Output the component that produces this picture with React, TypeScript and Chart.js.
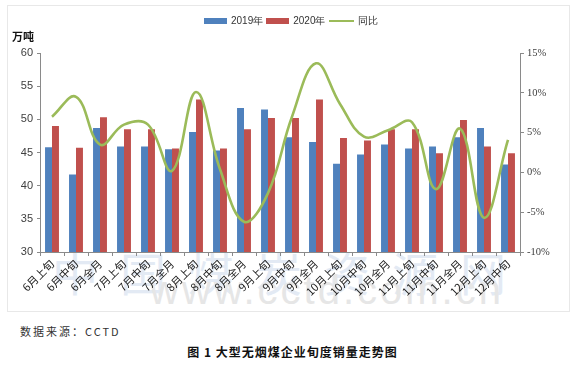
import React, { useEffect, useRef } from 'react';
import { Chart, registerables } from 'chart.js';

Chart.register(...registerables);

const categories = [
  '6月上旬', '6月中旬', '6月全月', '7月上旬', '7月中旬', '7月全月', '8月上旬', '8月中旬', '8月全月', '9月上旬',
  '9月中旬', '9月全月', '10月上旬', '10月中旬', '10月全月', '11月上旬', '11月中旬', '11月全月', '12月上旬', '12月中旬',
];
const sales2019 = [45.8, 41.7, 48.7, 45.9, 45.9, 45.5, 48.1, 45.3, 51.7, 51.5, 47.3, 46.6, 43.3, 44.7, 46.2, 45.6, 45.9, 47.3, 48.7, 43.2];
const sales2020 = [49.0, 45.7, 50.3, 48.5, 48.5, 45.6, 53.0, 45.6, 48.5, 50.2, 50.2, 53.0, 47.2, 46.8, 48.5, 48.5, 44.9, 49.9, 45.9, 44.9];
const yoyPct = [7.0, 9.5, 3.5, 6.0, 6.0, 0.2, 10.1, 0.4, -6.2, -2.6, 7.0, 13.7, 8.6, 4.5, 5.3, 6.3, -2.1, 5.5, -5.7, 4.1];
const leftRange = [30, 60, 5];
const rightRange = [-10, 15, 5];
const legendNames = ['2019年', '2020年', '同比'];
const unitLabel = '万吨';
const sourceText = '数据来源：CCTD';
const captionText = '图 1 大型无烟煤企业旬度销量走势图';

const BLUE = '#4F81BD';
const RED = '#C0504D';
const GREEN = '#9BBB59';
const AXIS = '#8a8a8a';

export default function App() {
  const ref = useRef<HTMLCanvasElement | null>(null);

  useEffect(() => {
    if (!ref.current) return;
    const chart = new Chart(ref.current, {
      type: 'bar',
      data: {
        labels: categories,
        datasets: [
          {
            type: 'line',
            label: legendNames[2],
            data: yoyPct,
            yAxisID: 'y1',
            borderColor: GREEN,
            backgroundColor: GREEN,
            borderWidth: 2.6,
            pointRadius: 0,
            tension: 0.4,
            order: 0,
          } as any,
          {
            label: legendNames[0],
            data: sales2019,
            backgroundColor: BLUE,
            yAxisID: 'y',
            categoryPercentage: 0.58,
            barPercentage: 1,
            order: 1,
          },
          {
            label: legendNames[1],
            data: sales2020,
            backgroundColor: RED,
            yAxisID: 'y',
            categoryPercentage: 0.58,
            barPercentage: 1,
            order: 1,
          },
        ],
      },
      options: {
        animation: false,
        responsive: false,
        maintainAspectRatio: false,
        layout: { padding: { top: 53, left: 0, right: 0, bottom: 0 } },
        plugins: { legend: { display: false }, tooltip: { enabled: false } },
        scales: {
          x: {
            offset: true,
            grid: { display: true, drawOnChartArea: false, offset: true, tickLength: 4, color: AXIS },
            border: { color: AXIS },
            ticks: {
              autoSkip: false,
              minRotation: 45,
              maxRotation: 45,
              padding: 1,
              color: '#222',
              font: { family: '"Noto Sans CJK SC", sans-serif', size: 11 },
            },
            afterFit: (s: any) => { s.height = 68; },
          },
          y: {
            position: 'left',
            min: leftRange[0],
            max: leftRange[1],
            ticks: {
              stepSize: leftRange[2],
              padding: 4,
              color: '#404040',
              font: { family: '"Liberation Sans", Arial, sans-serif', size: 11 },
            },
            grid: { drawOnChartArea: false, tickLength: 3, color: AXIS },
            border: { color: AXIS },
            afterFit: (s: any) => { s.width = 40; },
          },
          y1: {
            position: 'right',
            min: rightRange[0],
            max: rightRange[1],
            ticks: {
              stepSize: rightRange[2],
              padding: 3,
              color: '#404040',
              callback: (v: any) => v + '%',
              font: { family: '"Liberation Serif", serif', size: 10.5 },
            },
            grid: { drawOnChartArea: false, tickLength: 4, color: AXIS },
            border: { color: AXIS },
            afterFit: (s: any) => { s.width = 65; },
          },
        },
      },
    });
    return () => chart.destroy();
  }, []);

  const legendText: React.CSSProperties = {
    fontFamily: '"Liberation Sans", Arial, sans-serif',
    fontSize: 10,
    color: '#333',
    lineHeight: '12px',
  };

  return (
    <div style={{ position: 'absolute', left: 0, top: 0, width: 585, height: 366, background: '#fff', overflow: 'hidden' }}>
      <div style={{ position: 'absolute', left: 7, top: 5, width: 563, height: 307, border: '1px solid #e8e8e8', boxSizing: 'border-box' }} />
      <div style={{ position: 'absolute', left: 50, top: 238, width: 480, textAlign: 'center', fontFamily: '"Noto Sans CJK SC", sans-serif', fontSize: 46, letterSpacing: 22, color: '#e3eaf4', whiteSpace: 'nowrap' }}>中国煤炭资源网</div>
      <div style={{ position: 'absolute', left: 150, top: 268, width: 290, textAlign: 'center', fontFamily: '"Liberation Sans", Arial, sans-serif', fontSize: 40, letterSpacing: 3, color: '#e6e6e6', whiteSpace: 'nowrap' }}>www.cctd.com.cn</div>
      <canvas ref={ref} width={585} height={320} style={{ position: 'absolute', left: 0, top: 0, width: 585, height: 320 }} />
      <div style={{ position: 'absolute', left: 12, top: 30, fontFamily: '"Noto Sans CJK SC", sans-serif', fontSize: 11, fontWeight: 'bold', color: '#111', lineHeight: '13px' }}>{unitLabel}</div>
      <div style={{ position: 'absolute', left: 204, top: 15, display: 'flex', alignItems: 'center', whiteSpace: 'nowrap' }}>
        <span style={{ display: 'inline-block', width: 23, height: 6, background: BLUE, marginRight: 4 }} />
        <span style={legendText}>{legendNames[0]}</span>
        <span style={{ display: 'inline-block', width: 23, height: 6, background: RED, marginLeft: 3, marginRight: 4 }} />
        <span style={legendText}>{legendNames[1]}</span>
        <span style={{ display: 'inline-block', width: 25, height: 2.5, background: GREEN, marginLeft: 3, marginRight: 4 }} />
        <span style={legendText}>{legendNames[2]}</span>
      </div>
      <div style={{ position: 'absolute', left: 20, top: 324, fontFamily: '"Noto Sans CJK SC", sans-serif', fontSize: 11, letterSpacing: 2, color: '#333', lineHeight: '14px' }}>{sourceText}</div>
      <div style={{ position: 'absolute', left: 0, top: 344, width: 585, textAlign: 'center', fontFamily: '"Noto Sans CJK SC", sans-serif', fontSize: 12, fontWeight: 'bold', letterSpacing: 1, color: '#111', lineHeight: '16px' }}>{captionText}</div>
    </div>
  );
}
